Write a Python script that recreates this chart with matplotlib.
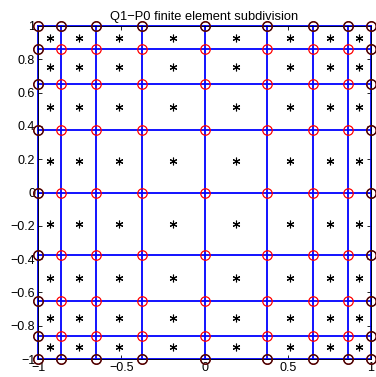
import numpy as np
import matplotlib
matplotlib.use('Agg')
import matplotlib.pyplot as plt

plt.rcParams['font.family'] = ['Liberation Sans', 'DejaVu Sans']

# grid nodes (same in x and y)
x_nodes = [-1.0, -0.86, -0.65, -0.375, 0.0, 0.375, 0.65, 0.86, 1.0]
y_nodes = [-1.0, -0.86, -0.65, -0.375, 0.0, 0.375, 0.65, 0.86, 1.0]
x_ticks = [-1, -0.5, 0, 0.5, 1]
y_ticks = [-1, -0.8, -0.6, -0.4, -0.2, 0, 0.2, 0.4, 0.6, 0.8, 1]
title = 'Q1\u2212P0 finite element subdivision'

xn = np.array(x_nodes)
yn = np.array(y_nodes)
X, Y = np.meshgrid(xn, yn)
xc = (xn[:-1] + xn[1:]) / 2
yc = (yn[:-1] + yn[1:]) / 2
XC, YC = np.meshgrid(xc, yc)

fig = plt.figure(figsize=(3.76, 3.77), dpi=100)
ax = fig.add_axes([38/376, 1 - 359/377, 333/376, 333/377])

# element edges
for x in xn:
    ax.plot([x, x], [yn[0], yn[-1]], color='blue', lw=1.3, zorder=2, clip_on=False)
for y in yn:
    ax.plot([xn[0], xn[-1]], [y, y], color='blue', lw=1.3, zorder=2, clip_on=False)

# all nodes red, boundary nodes dark
ax.plot(X.ravel(), Y.ravel(), 'o', mfc='none', mec='red', ms=6.8, mew=0.9, zorder=3, clip_on=False)
bnd = (np.abs(X) == 1) | (np.abs(Y) == 1)
ax.plot(X[bnd], Y[bnd], 'o', mfc='none', mec='#3a0a0a', ms=6.8, mew=1.0, zorder=4, clip_on=False)

# element centroids (P0 dofs)
ax.plot(XC.ravel(), YC.ravel(), marker=(6, 2, 0), ls='none', color='black', ms=5.5, mew=0.8, zorder=3)

ax.set_xlim(-1, 1)
ax.set_ylim(-1, 1)
ax.set_xticks(x_ticks)
ax.set_yticks(y_ticks)
ax.set_xticklabels([f'{t:g}'.replace('-', '\u2212') for t in x_ticks])
ax.set_yticklabels([f'{t:g}'.replace('-', '\u2212') for t in y_ticks])
ax.tick_params(direction='in', top=True, right=True, length=3, width=0.6, labelsize=9, pad=2)
for s in ax.spines.values():
    s.set_linewidth(0.6)
ax.set_title(title, fontsize=9.3, pad=4)

fig.savefig('out.png', dpi=100)
